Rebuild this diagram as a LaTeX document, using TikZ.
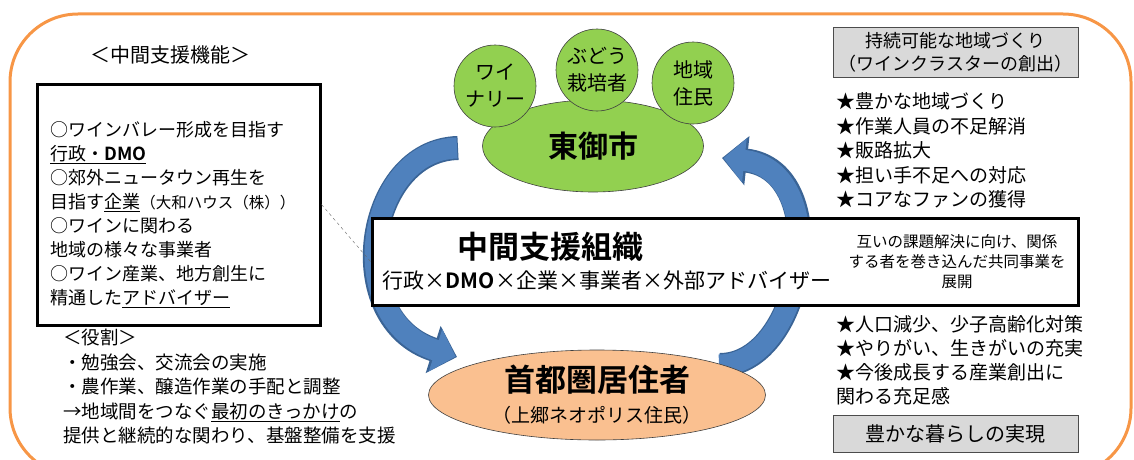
\documentclass[tikz,border=0pt]{standalone}
\usepackage{fontspec}
\setmainfont{Noto Sans CJK JP}[BoldFont={Noto Sans CJK JP Bold}]
\usepackage{tikz}
\usetikzlibrary{arrows.meta,shapes.geometric}
\definecolor{wakuorange}{HTML}{F79646}
\definecolor{midori}{HTML}{92D050}
\definecolor{daidai}{HTML}{FAC090}
\definecolor{ao}{HTML}{4F81BD}
\definecolor{aokoi}{HTML}{3A6496}
\definecolor{haiiro}{HTML}{D9D9D9}

\begin{document}
\begin{tikzpicture}[x=1pt,y=-1pt,inner sep=0pt,semithick]
  \tikzstyle{maru}=[circle,draw=black!75,fill=midori,minimum size=82pt,align=center,font=\fontsize{20}{27}\selectfont]
  \tikzstyle{daen}=[ellipse,draw=black!75,align=center]
  \tikzstyle{waku}=[rectangle,draw=black,line width=3pt,fill=white]
  \tikzstyle{haiwaku}=[rectangle,draw=black!70,thin,fill=haiiro,align=center]
  \tikzstyle{bun}=[anchor=north west,align=left]
  \tikzstyle{junkanfuchi}=[aokoi,line width=24pt,-{Triangle[length=25pt,width=48pt]}]
  \tikzstyle{junkan}=[ao,line width=21pt,shorten >=1.5pt,-{Triangle[length=21pt,width=43pt]}]

  \useasboundingbox (0,0) rectangle (1134,460);
  \draw[wakuorange,line width=3pt,rounded corners=68pt] (10,14) rectangle (1131,476);

  \draw[junkanfuchi] (458,148) .. controls (365,150) and (340,320) .. (457,357);
  \draw[junkan] (457,148) .. controls (365,150) and (340,320) .. (457,357);
  \draw[junkanfuchi] (720,365) .. controls (805,365) and (835,170) .. (722,158);
  \draw[junkan] (719,365) .. controls (805,365) and (835,170) .. (722,158);

  \node[daen,fill=midori,minimum width=221pt,minimum height=92pt,font=\fontsize{30}{30}\selectfont\bfseries] (tomi) at (593,146) {東御市};
  \node[maru] (winery) at (495,86) {ワイ\\ナリー};
  \node[maru] (budou) at (597,70) {ぶどう\\栽培者};
  \node[maru] (jumin) at (693,83) {地域\\住民};

  \node[daen,fill=daidai,minimum width=337pt,minimum height=90pt,font=\fontsize{19}{31}\selectfont] (shuto) at (597,395) {{\fontsize{31}{31}\selectfont\bfseries 首都圏居住者}\\（上郷ネオポリス住民）};

  \node[waku,minimum width=283pt,minimum height=241pt] (kinou) at (178.5,204.5) {};
  \node[waku,minimum width=706pt,minimum height=87pt] (chukan) at (725,261.5) {};
  \draw[black!60,thin,dashed] (kinou.east) -- (chukan.west);

  \node[font=\fontsize{20}{20}\selectfont] (kinoutitle) at (170,55) {＜中間支援機能＞};
  \node[bun,font=\fontsize{18}{24}\selectfont] (kinoutxt) at (50,121) {
    ○ワインバレー形成を目指す\\
    \underline{行政・\textbf{DMO}}\\
    ○郊外ニュータウン再生を\\
    目指す\underline{企業}{\fontsize{15.5}{24}\selectfont（大和ハウス（株））}\\
    ○ワインに関わる\\
    地域の様々な事業者\\
    ○ワイン産業、地方創生に\\
    精通した\underline{アドバイザー}};
  \node[bun,font=\fontsize{18.5}{24.5}\selectfont] (yakuwari) at (63,329) {
    ＜役割＞\\
    ・勉強会、交流会の実施\\
    ・農作業、醸造作業の手配と調整\\
    →地域間をつなぐ\underline{最初のきっかけ}の\\
    提供と継続的な関わり、基盤整備を支援};

  \node[font=\fontsize{31}{31}\selectfont\bfseries] (soshiki) at (550,247) {中間支援組織};
  \node[font=\fontsize{21}{21}\selectfont] (kosei) at (607,281) {行政×\textbf{DMO}×企業×事業者×外部アドバイザー};
  \node[align=center,font=\fontsize{15.5}{20}\selectfont] (tenkai) at (957,262) {互いの課題解決に向け、関係\\する者を巻き込んだ共同事業を\\展開};

  \node[haiwaku,minimum width=245pt,minimum height=50pt,font=\fontsize{18}{23}\selectfont] (jizoku) at (955.5,52) {持続可能な地域づくり\\（ワインクラスターの創出）};
  \node[bun,font=\fontsize{19}{24.5}\selectfont] (kouka1) at (836,92.5) {
    ★豊かな地域づくり\\
    ★作業人員の不足解消\\
    ★販路拡大\\
    ★担い手不足への対応\\
    ★コアなファンの獲得};
  \node[bun,font=\fontsize{19}{24}\selectfont] (kouka2) at (836,315.5) {
    ★人口減少、少子高齢化対策\\
    ★やりがい、生きがいの充実\\
    ★今後成長する産業創出に\\
    関わる充足感};
  \node[haiwaku,minimum width=245pt,minimum height=37pt,font=\fontsize{20}{20}\selectfont] (kurashi) at (955.5,433.5) {豊かな暮らしの実現};
\end{tikzpicture}
\end{document}
